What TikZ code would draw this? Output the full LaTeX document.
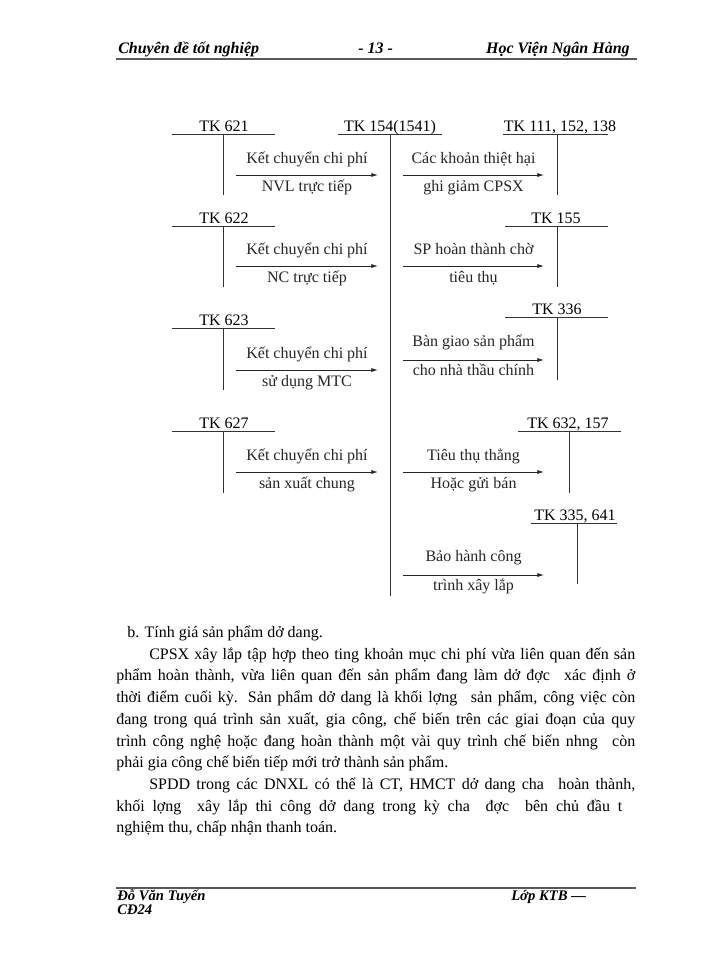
\documentclass[tikz,border=0pt]{standalone}
\usepackage{fontspec}
\setmainfont{Liberation Serif}
\usepackage{tikz}
\usetikzlibrary{arrows.meta,positioning}
\newlength{\pxu}\setlength{\pxu}{0.75pt}

\begin{document}
\begin{tikzpicture}[
  x=0.75pt, y=-0.75pt,
  >={Latex[length=5pt,width=3pt]},
  tline/.style={line width=0.6pt,black!80},
  arr/.style={->,line width=0.6pt,black!85},
  tk/.style={font=\fontsize{12}{14}\selectfont,anchor=base,inner sep=0pt},
  lab/.style={font=\fontsize{12}{14}\selectfont,inner sep=0pt,text height=9pt,text depth=2.5pt},
  body/.style={font=\fontsize{12}{14}\selectfont,anchor=base west,inner sep=0pt},
  head/.style={font=\fontsize{12}{14}\selectfont\bfseries\itshape,inner sep=0pt},
  foot/.style={font=\fontsize{11}{12}\selectfont\bfseries\itshape,inner sep=0pt,anchor=base west},
  rule/.style={line width=1.5pt,black!65}
]
\fill[white] (0,0) rectangle (700,960);
\useasboundingbox (0,0) rectangle (700,960);

% ===================== header =====================
\node[head,anchor=base west] (hleft) at (118,53) {Chuyên đề tốt nghiệp};
\node[head,anchor=base west] (hpage) at (358,53) {- 13 -};
\node[head,anchor=base east] (hright) at (630,53) {Học Viện Ngân Hàng};
\coordinate (hl) at (116,59);
\coordinate (hr) at (637,59);
\draw[rule] (hl) -- (hr);

% ===================== T accounts =====================
% central account
\node[tk] (tk154) at (390,131) {TK 154(1541)};
\draw[tline] (338,134) -- (442,134);
\draw[tline] (390,134) -- (390,596);

% left column (same width, same stem)
\foreach \nm/\y/\len in {621/134/61, 622/226/61, 623/328/62, 627/431/62} {
  \node[tk] (tk\nm) at (224,\y-3) {TK \nm};
  \draw[tline] (172,\y) -- (275,\y);
  \draw[tline] (223,\y) -- (223,\y+\len);
}

% right column
\node[tk] (tk111) at (560,131) {TK 111, 152, 138};
\draw[tline] (503,134) -- (608,134) (557,134) -- (557,195);
\node[tk] (tk155) at (556,223) {TK 155};
\draw[tline] (505,226) -- (608,226) (557,226) -- (557,287);
\node[tk] (tk336) at (557,314) {TK 336};
\draw[tline] (505,317) -- (608,317) (557,317) -- (557,380);
\node[tk] (tk632) at (568,428) {TK 632, 157};
\draw[tline] (518,431) -- (621,431) (569,431) -- (569,493);
\node[tk] (tk335) at (575,520) {TK 335, 641};
\draw[tline] (531,523) -- (617,523) (577,523) -- (577,584);

% ===================== arrows into TK 154 =====================
\coordinate (l1a) at (236,175); \coordinate (l1b) at (378,175);
\coordinate (l2a) at (236,266); \coordinate (l2b) at (378,266);
\coordinate (l3a) at (236,370); \coordinate (l3b) at (378,370);
\coordinate (l4a) at (236,472); \coordinate (l4b) at (378,472);

\draw[arr] (l1a) -- (l1b)
  node[midway,above=6.1pt,lab] {Kết chuyển chi phí}
  node[midway,below=3.4pt,lab] {NVL trực tiếp};
\draw[arr] (l2a) -- (l2b)
  node[midway,above=6.1pt,lab] {Kết chuyển chi phí}
  node[midway,below=3.4pt,lab] {NC trực tiếp};
\draw[arr] (l3a) -- (l3b)
  node[midway,above=6.1pt,lab] {Kết chuyển chi phí}
  node[midway,below=3.4pt,lab] {sử dụng MTC};
\draw[arr] (l4a) -- (l4b)
  node[midway,above=6.1pt,lab] {Kết chuyển chi phí}
  node[midway,below=3.4pt,lab] {sản xuất chung};

% ===================== arrows out of TK 154 =====================
\coordinate (r1a) at (403,175); \coordinate (r1b) at (544,175);
\coordinate (r2a) at (403,266); \coordinate (r2b) at (544,266);
\coordinate (r3a) at (403,360); \coordinate (r3b) at (544,360);
\coordinate (r4a) at (403,472); \coordinate (r4b) at (544,472);
\coordinate (r5a) at (403,575); \coordinate (r5b) at (544,575);

\draw[arr] (r1a) -- (r1b)
  node[midway,above=6.1pt,lab] {Các khoản thiệt hại}
  node[midway,below=3.4pt,lab] {ghi giảm CPSX};
\draw[arr] (r2a) -- (r2b)
  node[midway,above=6.1pt,lab] {SP hoàn thành chờ}
  node[midway,below=3.4pt,lab] {tiêu thụ};
\draw[arr] (r3a) -- (r3b)
  node[midway,above=7pt,lab] {Bàn giao sản phẩm}
  node[midway,below=2.6pt,lab] {cho nhà thầu chính};
\draw[arr] (r4a) -- (r4b)
  node[midway,above=6.1pt,lab] {Tiêu thụ thẳng}
  node[midway,below=3.4pt,lab] {Hoặc gửi bán};
\draw[arr] (r5a) -- (r5b)
  node[midway,above=7pt,lab] {Bảo hành công}
  node[midway,below=2.6pt,lab] {trình xây lắp};

% ===================== text below =====================
\node[body] (p0) at (127,637.5) {b. Tính giá sản phẩm dở dang.};
\node[body] (p1) at (149,659.2) {\makebox[486\pxu][s]{CPSX xây lắp tập hợp theo ting khoản mục chi phí vừa liên quan đến sản}};
\node[body] (p2) at (116,680.9) {\makebox[519\pxu][s]{phẩm hoàn thành, vừa liên quan đến sản phẩm đang làm dở đợc\hspace{0.5em} xác định ở}};
\node[body] (p3) at (116,702.6) {\makebox[519\pxu][s]{thời điểm cuối kỳ. Sản phẩm dở dang là khối lợng\hspace{0.5em} sản phẩm, công việc còn}};
\node[body] (p4) at (116,724.3) {\makebox[519\pxu][s]{đang trong quá trình sản xuất, gia công, chế biến trên các giai đoạn của quy}};
\node[body] (p5) at (116,746.0) {\makebox[519\pxu][s]{trình công nghệ hoặc đang hoàn thành một vài quy trình chế biến nhng\hspace{0.5em} còn}};
\node[body] (p6) at (116,767.7) {phải gia công chế biến tiếp mới trở thành sản phẩm.};
\node[body] (p7) at (149,789.4) {\makebox[486\pxu][s]{SPDD trong các DNXL có thể là CT, HMCT dở dang cha\hspace{0.5em} hoàn thành,}};
\node[body] (p8) at (116,811.1) {\makebox[506\pxu][s]{khối lợng\hspace{0.5em} xây lắp thi công dở dang trong kỳ cha\hspace{0.5em} đợc\hspace{0.5em} bên chủ đầu t}};
\node[body] (p9) at (116,832.8) {nghiệm thu, chấp nhận thanh toán.};

% ===================== footer =====================
\coordinate (fl) at (116,888);
\coordinate (fr) at (636,888);
\draw[rule] (fl) -- (fr);
\node[foot] (fname) at (117,900) {Đỗ Văn Tuyến};
\node[foot] (fcode) at (117,914) {CĐ24};
\node[foot] (fclass) at (511,900) {Lớp KTB —};

\end{tikzpicture}
\end{document}
